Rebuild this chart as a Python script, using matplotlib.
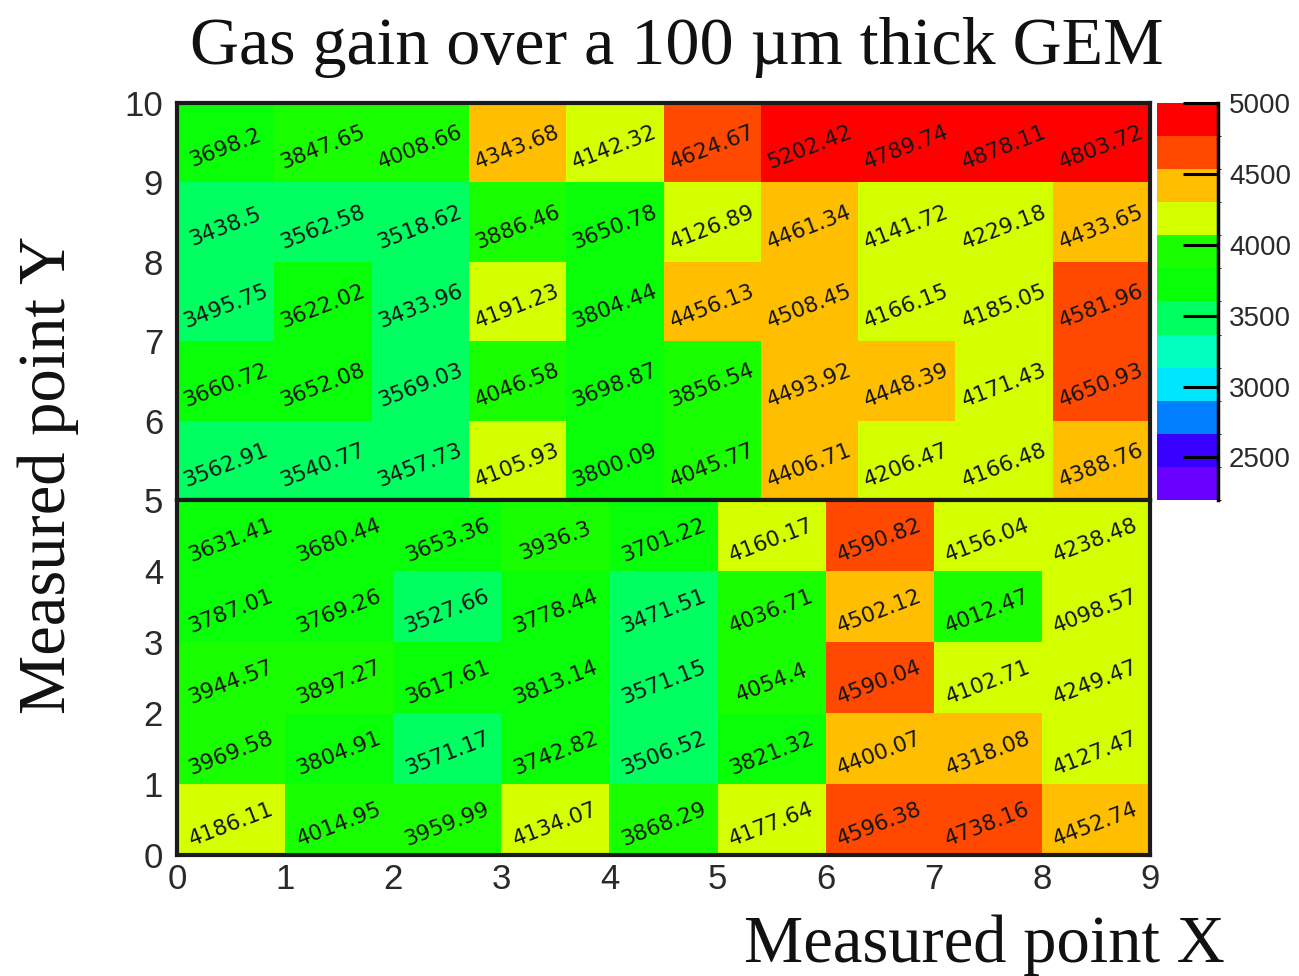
import numpy as np
import matplotlib
matplotlib.use("Agg")
import matplotlib.pyplot as plt
from matplotlib.colors import ListedColormap, BoundaryNorm
from matplotlib.cm import ScalarMappable
from matplotlib.transforms import offset_copy

# Measured gas gain, upper half of the foil: 10 x-bins, rows from y=9 down to y=5
upper_gain = [
    [3698.2, 3847.65, 4008.66, 4343.68, 4142.32, 4624.67, 5202.42, 4789.74, 4878.11, 4803.72],
    [3438.5, 3562.58, 3518.62, 3886.46, 3650.78, 4126.89, 4461.34, 4141.72, 4229.18, 4433.65],
    [3495.75, 3622.02, 3433.96, 4191.23, 3804.44, 4456.13, 4508.45, 4166.15, 4185.05, 4581.96],
    [3660.72, 3652.08, 3569.03, 4046.58, 3698.87, 3856.54, 4493.92, 4448.39, 4171.43, 4650.93],
    [3562.91, 3540.77, 3457.73, 4105.93, 3800.09, 4045.77, 4406.71, 4206.47, 4166.48, 4388.76],
]

# Lower half of the foil: 9 x-bins, rows from y=4 down to y=0
lower_gain = [
    [3631.41, 3680.44, 3653.36, 3936.3, 3701.22, 4160.17, 4590.82, 4156.04, 4238.48],
    [3787.01, 3769.26, 3527.66, 3778.44, 3471.51, 4036.71, 4502.12, 4012.47, 4098.57],
    [3944.57, 3897.27, 3617.61, 3813.14, 3571.15, 4054.4, 4590.04, 4102.71, 4249.47],
    [3969.58, 3804.91, 3571.17, 3742.82, 3506.52, 3821.32, 4400.07, 4318.08, 4127.47],
    [4186.11, 4014.95, 3959.99, 4134.07, 3868.29, 4177.64, 4596.38, 4738.16, 4452.74],
]

upper_x_edges = list(range(0, 11))
upper_y_edges = [10, 9, 8, 7, 6, 5]
lower_x_edges = list(range(0, 10))
lower_y_edges = [5, 4, 3, 2, 1, 0]

x_ticks = list(range(0, 10))
upper_y_ticks = [6, 7, 8, 9, 10]
lower_y_ticks = [0, 1, 2, 3, 4, 5]

z_min, z_max, n_contours = 2200, 5000, 12
cbar_ticks = [2500, 3000, 3500, 4000, 4500, 5000]

# Rainbow palette, one colour per contour band (low -> high)
palette = ["#6a00ff", "#3a00ff", "#0080ff", "#00e6ff", "#00ffbf", "#00ff60",
           "#08ff08", "#1aff00", "#d4ff00", "#ffbf00", "#ff4800", "#ff0000"]

title = "Gas gain over a 100 \u00b5m thick GEM"
xlabel = "Measured point X"
ylabel = "Measured point Y"

W, H = 1299, 976
fig = plt.figure(figsize=(W / 100, H / 100), dpi=100, facecolor="white")


def px_axes(x0, y0, x1, y1):
    return fig.add_axes([x0 / W, 1 - y1 / H, (x1 - x0) / W, (y1 - y0) / H])


levels = np.linspace(z_min, z_max, n_contours + 1)
cmap = ListedColormap(palette)
norm = BoundaryNorm(levels, cmap.N, clip=True)

ax_top = px_axes(177, 103, 1150, 500)
ax_bot = px_axes(177, 500, 1150, 855)
cax = px_axes(1157, 103, 1218, 500)

frame_color = "#1a1a1a"
tick_font = dict(family="Liberation Sans", size=25, color="#2a2a2a")
cell_font = dict(family="DejaVu Sans", size=15.5, color="#151515")


def draw_panel(ax, xe, ye, values):
    vals = np.asarray(values, dtype=float)
    ax.pcolormesh(xe, ye, vals, cmap=cmap, norm=norm, shading="flat")
    text_tr = offset_copy(ax.transData, fig=fig, x=0, y=-5, units="dots")
    for i in range(vals.shape[0]):
        yc = 0.5 * (ye[i] + ye[i + 1])
        for j in range(vals.shape[1]):
            xc = 0.5 * (xe[j] + xe[j + 1])
            ax.text(xc, yc, f"{vals[i, j]:g}", rotation=21, rotation_mode="anchor",
                    ha="center", va="center", transform=text_tr, **cell_font)
    ax.set_xlim(min(xe), max(xe))
    ax.set_ylim(min(ye), max(ye))
    for sp in ax.spines.values():
        sp.set_linewidth(3.0)
        sp.set_color(frame_color)
    ax.tick_params(length=0)


draw_panel(ax_top, upper_x_edges, upper_y_edges, upper_gain)
draw_panel(ax_bot, lower_x_edges, lower_y_edges, lower_gain)

ax_top.set_xticks([])
ax_top.set_yticks(upper_y_ticks)
ax_top.set_yticklabels([str(t) for t in upper_y_ticks], **tick_font)
ax_top.tick_params(axis="y", pad=10)

ax_bot.set_xticks(x_ticks)
ax_bot.set_xticklabels([str(t) for t in x_ticks], **tick_font)
ax_bot.set_yticks(lower_y_ticks)
ax_bot.set_yticklabels([str(t) for t in lower_y_ticks], **tick_font)
ax_bot.tick_params(axis="y", pad=10)
ax_bot.tick_params(axis="x", pad=6)

# Colour scale
sm = ScalarMappable(norm=norm, cmap=cmap)
cb = fig.colorbar(sm, cax=cax, ticks=cbar_ticks, spacing="proportional")
cb.outline.set_visible(False)
cax.set_ylim(z_min, z_max)
cax.yaxis.set_ticks_position("right")
cax.tick_params(axis="y", direction="in", length=25, width=2.2, color="black",
                pad=8)
cax.set_yticks(cbar_ticks)
cax.set_yticklabels([str(t) for t in cbar_ticks], family="Liberation Sans",
                    size=20, color="#2a2a2a")
cax.axvline(1.0, color="black", lw=2.5, clip_on=False)

fig.text(677 / W, 1 - 64 / H, title, ha="center", va="baseline",
         family="Liberation Serif", size=49, color="#111111")
fig.text(1225 / W, 1 - 962 / H, xlabel, ha="right", va="baseline",
         family="Liberation Serif", size=48, color="#111111")
fig.text(48 / W, 1 - 475 / H, ylabel, ha="center", va="center", rotation=90,
         family="Liberation Serif", size=48, color="#111111")

fig.savefig("out.png", dpi=100, facecolor="white")
